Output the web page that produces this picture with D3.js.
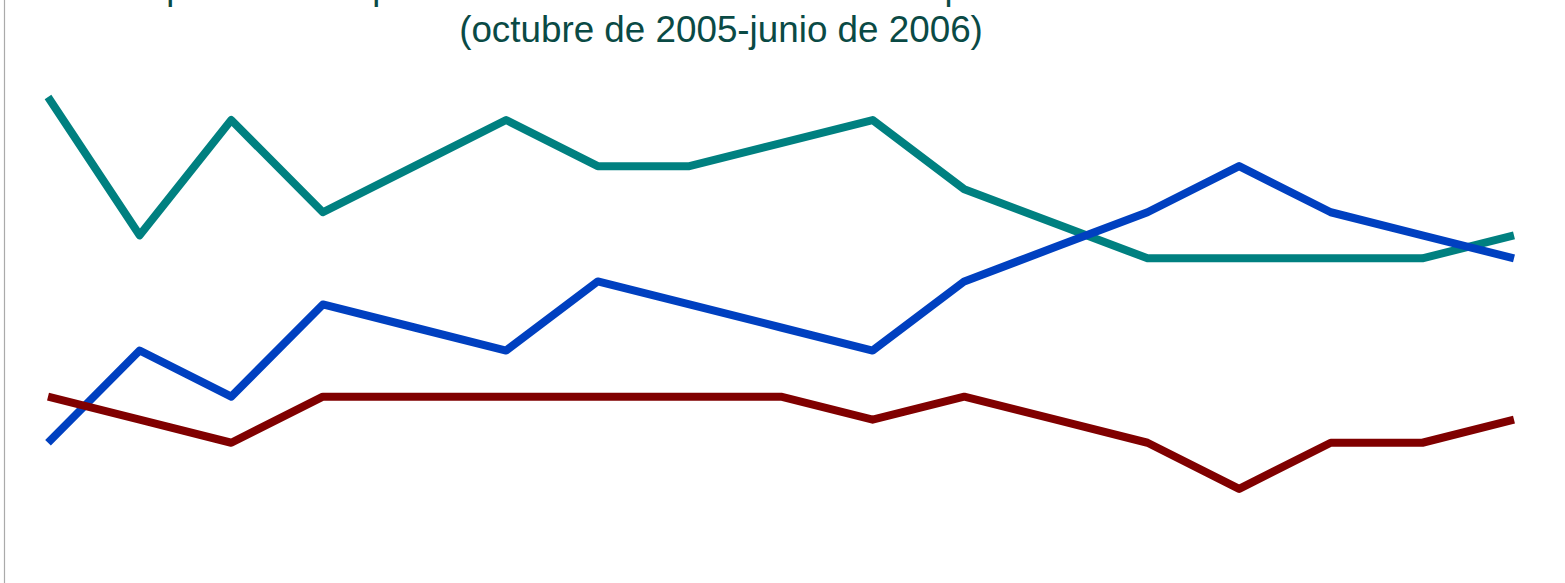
<!DOCTYPE html>
<html>
<head>
<meta charset="utf-8">
<script src="https://cdn.jsdelivr.net/npm/d3@7"></script>
<style>
  html, body { margin: 0; padding: 0; background: #fff; overflow: hidden; }
  svg { display: block; }
</style>
</head>
<body>
<svg id="chart" width="1565" height="583"></svg>
<script>
// ---- data ----
const periods = ["oct-05 I","oct-05 II","nov-05 I","nov-05 II","dic-05 I","dic-05 II",
  "ene-06 I","ene-06 II","feb-06 I","feb-06 II","mar-06 I","mar-06 II",
  "abr-06 I","abr-06 II","may-06 I","may-06 II","jun-06 I"];
const tealSeries = [42, 36, 41, 37, 39, 41, 39, 39, 40, 41, 38, 36.5, 35, 35, 35, 35, 36];
const blueSeries = [27, 31, 29, 33, 32, 31, 34, 33, 32, 31, 34, 35.5, 37, 39, 37, 36, 35];
const redSeries  = [29, 28, 27, 29, 29, 29, 29, 29, 29, 28, 29, 28, 27, 25, 27, 27, 28];
const titleLine1 = "Encuestas de opinión sobre preferencias electorales rumbo a la presidencia de México";
const titleLine2 = "(octubre de 2005-junio de 2006)";

// ---- drawing ----
const svg = d3.select("#chart");
const x = d3.scalePoint().domain(periods).range([48, 1514]);
const y = d3.scaleLinear().domain([15, 47]).range([97 + 27 * 23.05, 97 - 5 * 23.05]);

// left axis line
svg.append("g")
  .attr("transform", "translate(4,0)")
  .call(d3.axisLeft(y).tickValues([]).tickSizeOuter(0))
  .call(g => g.select(".domain").attr("stroke", "#aaaaaa").attr("stroke-width", 1.2));

// titles (first line is partly above the visible area, as in the reference)
svg.append("text")
  .attr("x", -82).attr("y", -1)
  .attr("font-family", "'Liberation Sans', Arial, sans-serif")
  .attr("font-size", 36)
  .attr("fill", "#0a4a45")
  .text(titleLine1);
svg.append("text")
  .attr("x", 721).attr("y", 41.5)
  .attr("text-anchor", "middle")
  .attr("font-family", "'Liberation Sans', Arial, sans-serif")
  .attr("font-size", 36.8)
  .attr("fill", "#0a4a45")
  .text(titleLine2);

const line = d3.line().x((d, i) => x(periods[i])).y(d => y(d));
const series = [
  { values: tealSeries, color: "#008080" },
  { values: blueSeries, color: "#0040c0" },
  { values: redSeries, color: "#800000" }
];
svg.selectAll("path.series")
  .data(series)
  .join("path")
  .attr("class", "series")
  .attr("fill", "none")
  .attr("stroke", d => d.color)
  .attr("stroke-width", 8)
  .attr("stroke-linejoin", "round")
  .attr("stroke-linecap", "butt")
  .attr("d", d => line(d.values));
</script>
</body>
</html>
